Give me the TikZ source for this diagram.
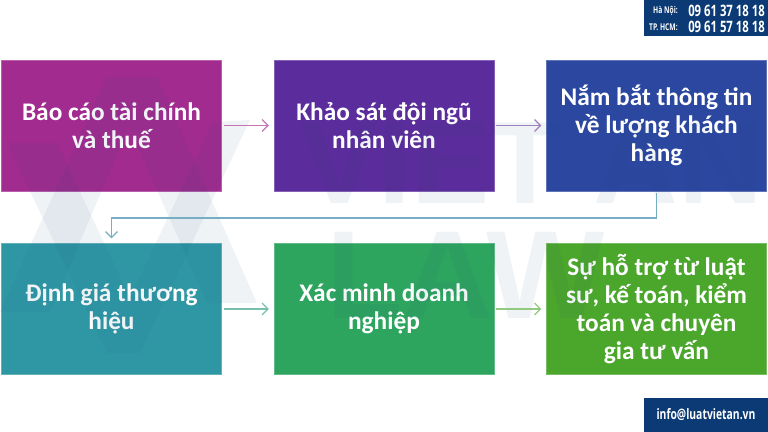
\documentclass[tikz,border=0pt]{standalone}
\usepackage{fontspec}
\setmainfont{Carlito}
\newfontfamily\narrowfont[FakeStretch=0.72]{Open Sans}
\newfontfamily\markfont{Liberation Sans}
\usetikzlibrary{arrows.meta}
\definecolor{navy}{HTML}{0B3A75}
\definecolor{markblue}{HTML}{1F4E79}
\begin{document}
\begin{tikzpicture}[x=0.75pt,y=-0.75pt]

\tikzset{stepbox/.style = {shape=rectangle,draw=#1!75!white,fill=#1,line width=0.6pt,minimum width=165pt,minimum height=98.25pt,align=center,text=white,font=\fontsize{19}{21}\selectfont\bfseries}}
\tikzset{edge/.style = {-{Straight Barb[length=4.5pt,width=9pt]},line width=0.9pt,shorten >=3.5pt,shorten <=1.5pt}}
\tikzset{infobox/.style = {shape=rectangle,fill=navy,inner sep=0pt,text=white}}
\tikzset{logomark/.style = {fill=markblue,fill opacity=0.065,draw=none}}
\definecolor{c1}{HTML}{A12B8F}
\definecolor{c2}{HTML}{5B2C9B}
\definecolor{c3}{HTML}{2B47A0}
\definecolor{c4}{HTML}{2F97A4}
\definecolor{c5}{HTML}{2DA55F}
\definecolor{c6}{HTML}{4BA62C}

\useasboundingbox (0,0) rectangle (768,432);
%boxes
\node[stepbox=c1] (1) at (111.5,125.5) {Báo cáo tài chính\\và thuế};
\node[stepbox=c2] (2) at (384,125.5) {Khảo sát đội ngũ\\nhân viên};
\node[stepbox=c3] (3) at (656.5,125.5) {Nắm bắt thông tin\\về lượng khách\\hàng};
\node[stepbox=c4] (4) at (111.5,309) {Định giá thương\\hiệu};
\node[stepbox=c5] (5) at (384,309) {Xác minh doanh\\nghiệp};
\node[stepbox=c6] (6) at (656.5,309) {Sự hỗ trợ từ luật\\sư, kế toán, kiểm\\toán và chuyên\\gia tư vấn};
\coordinate (bend) at (111.5,218);
%watermark
\fill[logomark] (107,77) -- (157,77) -- (257,303) -- (207,303) -- (129,127) -- (50,312) -- (0,312) -- cycle;
\fill[logomark] (7,143) -- (57,143) -- (130,298) -- (213,122) -- (250,120) -- (140,353) -- (107,353) -- cycle;
\begin{scope}
\clip (0,0) rectangle (768,432);
\node[text=markblue,text opacity=0.065,font=\markfont\fontsize{88}{88}\selectfont\bfseries,anchor=base west,inner sep=0pt] (viet) at (300,203) {VIET AN};
\node[text=markblue,text opacity=0.065,font=\markfont\fontsize{94}{94}\selectfont\bfseries,anchor=base west,inner sep=0pt] (law) at (326,318) {LAW};
\end{scope}
%edges
\draw [edge,color=c1!65!white] (1) -- (2);
\draw [edge,color=c2!60!white] (2) -- (3);
\draw [edge,color=c5!50!c4!65!white] (4) -- (5);
\draw [edge,color=c6!60!white] (5) -- (6);
\draw [edge,color=c3!25!c4!65!white] (3) |- (bend) -- (4);
%contact
\node[infobox,minimum width=93pt,minimum height=27pt] (phone) at (706,18) {};
\node[infobox,minimum width=93pt,minimum height=25.5pt] (mail) at (706,415) {\narrowfont\bfseries\fontsize{10.8}{11}\selectfont info@luatvietan.vn};
\node[text=white,anchor=east,inner sep=0pt,font=\narrowfont\bfseries\fontsize{7}{8}\selectfont] (hn) at (678,10.5) {Hà Nội:};
\node[text=white,anchor=east,inner sep=0pt,font=\narrowfont\bfseries\fontsize{7}{8}\selectfont] (hcm) at (678,27) {TP. HCM:};
\node[text=white,anchor=west,inner sep=0pt,font=\narrowfont\bfseries\fontsize{11.8}{12}\selectfont] (n1) at (688,10.5) {09 61 37 18 18};
\node[text=white,anchor=west,inner sep=0pt,font=\narrowfont\bfseries\fontsize{11.8}{12}\selectfont] (n2) at (688,27) {09 61 57 18 18};

\end{tikzpicture}
\end{document}
